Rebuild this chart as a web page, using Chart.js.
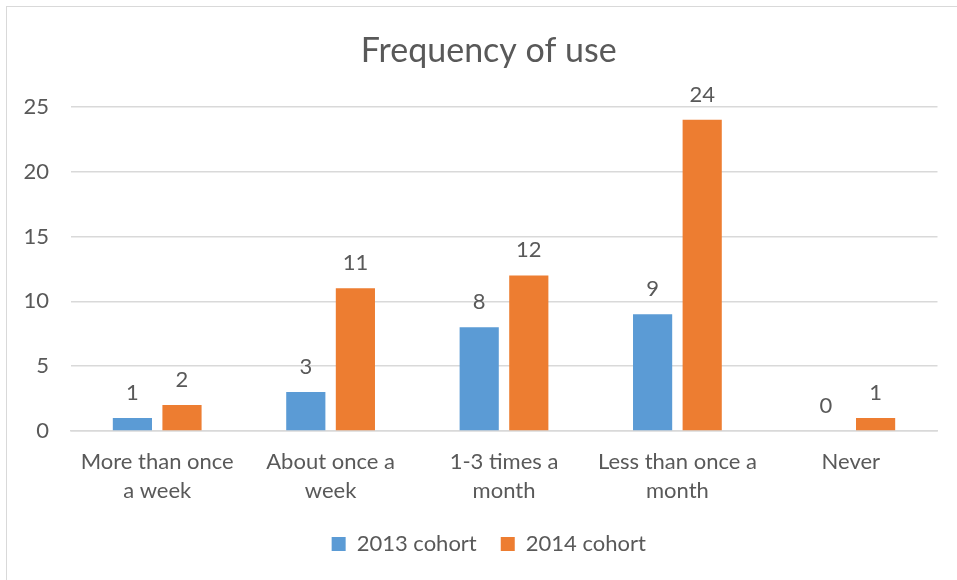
<!DOCTYPE html>
<html lang="en">
<head>
  <meta charset="UTF-8" />
  <title>Frequency of use</title>
  <script src="https://cdn.jsdelivr.net/npm/chart.js"></script>
  <style>
    html, body { margin: 0; padding: 0; background: #fff; overflow: hidden; }
    .frame {
      position: absolute; left: 6px; top: 6px;
      width: 1000px; height: 1000px;
      border: 1.5px solid #d9d9d9;
    }
    .wrap { position: absolute; left: 0; top: 0; width: 957px; height: 580px; }
  </style>
</head>
<body>
  <div class="frame"></div>
  <div class="wrap"><canvas id="useChart" width="957" height="580"></canvas></div>

  <script>
    const categories = [
      ['More than once', 'a week'],
      ['About once a', 'week'],
      ['1-3 times a', 'month'],
      ['Less than once a', 'month'],
      ['Never']
    ];
    const cohort2013 = [1, 3, 8, 9, 0];
    const cohort2014 = [2, 11, 12, 24, 1];
    const yTicks = [0, 5, 10, 15, 20, 25];

    const textColor = '#595959';
    const gridColor = '#d9d9d9';
    const fontFamily = 'Lato, "Open Sans", sans-serif';

    // writes each bar's value just above its top
    const valueLabels = {
      id: 'valueLabels',
      afterDatasetsDraw(chart) {
        const ctx = chart.ctx;
        ctx.save();
        ctx.fillStyle = textColor;
        ctx.font = '22px ' + fontFamily;
        ctx.textAlign = 'center';
        ctx.textBaseline = 'alphabetic';
        chart.data.datasets.forEach((ds, i) => {
          chart.getDatasetMeta(i).data.forEach((bar, j) => {
            ctx.fillText(String(ds.data[j]), bar.x, bar.y - 18);
          });
        });
        ctx.restore();
      }
    };

    // title and legend sit centred on the plot rather than on the whole canvas
    const centreBlocks = {
      id: 'centreBlocks',
      afterLayout(chart) {
        const shift = 20;
        [chart.titleBlock, chart.legend].forEach(b => {
          if (!b) return;
          b.left += shift;
          b.right += shift;
        });
      }
    };

    new Chart(document.getElementById('useChart'), {
      type: 'bar',
      data: {
        labels: categories,
        datasets: [
          { label: '2013 cohort', data: cohort2013, backgroundColor: '#5b9bd5' },
          { label: '2014 cohort', data: cohort2014, backgroundColor: '#ed7d31' }
        ]
      },
      options: {
        responsive: false,
        animation: false,
        devicePixelRatio: 1,
        categoryPercentage: 0.572,
        barPercentage: 0.79,
        layout: { padding: { left: 0, right: 19.5, top: 0, bottom: 15 } },
        plugins: {
          title: {
            display: true,
            text: 'Frequency of use',
            color: textColor,
            font: { family: fontFamily, size: 34, weight: 'normal' },
            padding: { top: 31, bottom: 35 }
          },
          legend: {
            position: 'bottom',
            labels: {
              color: textColor,
              font: { family: fontFamily, size: 22 },
              boxWidth: 14,
              boxHeight: 14,
              padding: 24
            }
          },
          tooltip: { enabled: false }
        },
        scales: {
          x: {
            grid: { display: false, drawTicks: false },
            border: { color: gridColor, width: 1.5 },
            ticks: {
              color: textColor,
              font: { family: fontFamily, size: 22, lineHeight: 1.32 },
              padding: 16,
              maxRotation: 0,
              autoSkip: false
            },
            afterFit(scale) { scale.height = 78; }
          },
          y: {
            min: 0,
            max: 25,
            afterBuildTicks(scale) { scale.ticks = yTicks.map(v => ({ value: v })); },
            grid: { color: gridColor, lineWidth: 1.5, drawTicks: false },
            border: { display: false },
            ticks: {
              color: textColor,
              font: { family: fontFamily, size: 22 },
              padding: 21.5
            },
            afterFit(scale) { scale.width = 70.5; }
          }
        }
      },
      plugins: [valueLabels, centreBlocks]
    });
  </script>
</body>
</html>
